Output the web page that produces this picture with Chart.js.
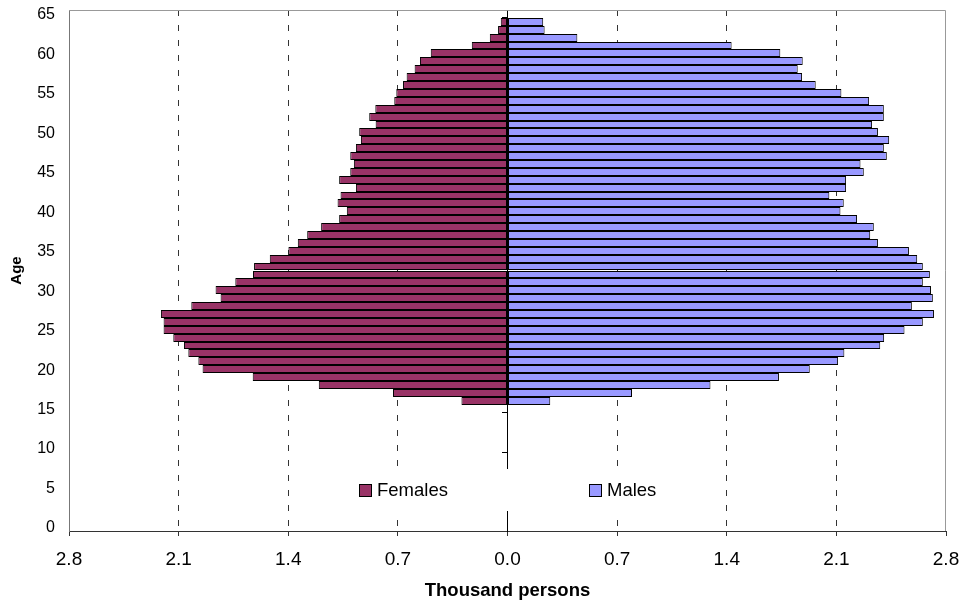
<!DOCTYPE html>
<html>
<head>
<meta charset="utf-8">
<script src="https://cdn.jsdelivr.net/npm/chart.js@4.4.1/dist/chart.umd.min.js"></script>
<style>
    html, body { margin: 0; padding: 0; background: #fff; }
    #wrap { width: 964px; height: 606px; position: relative; }
</style>
</head>
<body>
<div id="wrap"><canvas id="pyramidChart"></canvas></div>
<script>
// ages shown as bars, youngest first
const ages = [16, 17, 18, 19, 20, 21, 22, 23, 24, 25,
    26, 27, 28, 29, 30, 31, 32, 33, 34, 35,
    36, 37, 38, 39, 40, 41, 42, 43, 44, 45,
    46, 47, 48, 49, 50, 51, 52, 53, 54, 55,
    56, 57, 58, 59, 60, 61, 62, 63, 64];

// thousand persons
const females = [0.294, 0.731, 1.205, 1.627, 1.947, 1.974, 2.038, 2.066, 2.134, 2.196,
    2.196, 2.213, 2.019, 1.832, 1.864, 1.738, 1.625, 1.618, 1.518, 1.399,
    1.339, 1.279, 1.190, 1.075, 1.026, 1.085, 1.066, 0.968, 1.075, 1.004,
    0.981, 1.004, 0.968, 0.936, 0.947, 0.842, 0.883, 0.844, 0.723, 0.710,
    0.667, 0.644, 0.593, 0.559, 0.490, 0.228, 0.113, 0.060, 0.043];

const males = [0.273, 0.795, 1.296, 1.733, 1.930, 2.111, 2.151, 2.380, 2.405, 2.535,
    2.652, 2.723, 2.582, 2.716, 2.704, 2.652, 2.697, 2.652, 2.616, 2.563,
    2.365, 2.316, 2.339, 2.232, 2.126, 2.147, 2.055, 2.162, 2.162, 2.275,
    2.254, 2.422, 2.403, 2.437, 2.365, 2.328, 2.403, 2.403, 2.309, 2.132,
    1.968, 1.881, 1.853, 1.885, 1.742, 1.431, 0.446, 0.237, 0.228];

const xTicks = [-2.8, -2.1, -1.4, -0.7, 0, 0.7, 1.4, 2.1, 2.8];
const yTicks = [0, 5, 10, 15, 20, 25, 30, 35, 40, 45, 50, 55, 60, 65];

// one category slot per year of age, 0..65
const ageSlots = [];
for (let a = 0; a <= 65; a++) ageSlots.push(String(a));

const femaleData = ageSlots.map(a => {
    const k = ages.indexOf(Number(a));
    return k < 0 ? null : -females[k];
});
const maleData = ageSlots.map(a => {
    const k = ages.indexOf(Number(a));
    return k < 0 ? null : males[k];
});

const fontFamily = '"Liberation Sans", Arial, sans-serif';
Chart.defaults.font.family = fontFamily;
Chart.defaults.color = '#000';

// no extra room for overhanging labels, the layout padding handles it
const noPad = s => {
    s.paddingLeft = 0;
    s.paddingRight = 0;
    s.paddingTop = 0;
    s.paddingBottom = 0;
};

// snap bar top/bottom edges to whole pixels so the borders stay crisp
const snapBars = {
    id: 'snapBars',
    beforeDatasetsDraw(chart) {
        chart.data.datasets.forEach((ds, i) => {
            chart.getDatasetMeta(i).data.forEach(bar => {
                const top = Math.round(bar.y - bar.height / 2);
                const bottom = Math.round(bar.y + bar.height / 2);
                bar.y = (top + bottom) / 2;
                bar.height = bottom - top;
            });
        });
    }
};

// gray top and right edges of the plot area
const frameLines = {
    id: 'frameLines',
    beforeDatasetsDraw(chart) {
        const { ctx, chartArea } = chart;
        const t = Math.round(chartArea.top) + 0.5;
        const r = Math.round(chartArea.right) - 0.5;
        ctx.save();
        ctx.strokeStyle = '#999';
        ctx.lineWidth = 1;
        ctx.beginPath();
        ctx.moveTo(chartArea.left, t);
        ctx.lineTo(r, t);
        ctx.lineTo(r, chartArea.bottom);
        ctx.stroke();
        ctx.restore();
    }
};

// legend sitting inside the plot, near the bottom
const legendBox = {
    id: 'legendBox',
    afterDraw(chart) {
        const { ctx, chartArea } = chart;
        const cy = chartArea.bottom - 41;
        const itemX = [chartArea.left + 290, chartArea.left + 520];
        ctx.save();
        ctx.fillStyle = '#fff';
        ctx.fillRect(chartArea.left + 280, cy - 21, 330, 42);
        ctx.font = '18.5px ' + fontFamily;
        ctx.textBaseline = 'middle';
        chart.data.datasets.forEach((ds, i) => {
            const x = itemX[i];
            ctx.fillStyle = ds.backgroundColor;
            ctx.fillRect(x, cy - 6, 12, 12);
            ctx.strokeStyle = '#000';
            ctx.lineWidth = 1;
            ctx.strokeRect(x + 0.5, cy - 5.5, 12, 12);
            ctx.fillStyle = '#000';
            ctx.fillText(ds.label, x + 18, cy + 1);
        });
        ctx.restore();
    }
};

const chartItem = document.getElementById('pyramidChart');
const pyramid = new Chart(chartItem, {
    type: 'bar',
    data: {
        labels: ageSlots,
        datasets: [{
            label: 'Females',
            data: femaleData,
            xAxisID: 'x',
            yAxisID: 'y',
            backgroundColor: '#993366',
            borderColor: '#000',
            borderWidth: 1,
            borderSkipped: false,
            inflateAmount: 0,
            barPercentage: 1.0,
            categoryPercentage: 1.0
        },
        {
            label: 'Males',
            data: maleData,
            xAxisID: 'x',
            yAxisID: 'y',
            backgroundColor: '#9999FF',
            borderColor: '#000',
            borderWidth: 1,
            borderSkipped: false,
            inflateAmount: 0,
            barPercentage: 1.0,
            categoryPercentage: 1.0
        }]
    },
    options: {
        indexAxis: 'y',
        responsive: true,
        maintainAspectRatio: false,
        animation: false,
        layout: {
            padding: { top: 10, right: 18, left: 0, bottom: 0 }
        },
        plugins: {
            legend: { display: false },
            tooltip: { enabled: false }
        },
        scales: {
            x: {
                type: 'linear',
                min: -2.8,
                max: 2.8,
                stacked: true,
                afterBuildTicks: s => { s.ticks = xTicks.map(v => ({ value: v })); },
                afterFit: s => { s.height = 75; noPad(s); },
                ticks: {
                    font: { size: 19 },
                    color: '#000',
                    padding: 12,
                    maxRotation: 0,
                    autoSkip: false,
                    callback: v => Math.abs(v).toFixed(1)
                },
                grid: {
                    color: c => (c.tick && (c.tick.value === 0 || Math.abs(c.tick.value) === 2.8)) ? 'rgba(0,0,0,0)' : '#333',
                    tickColor: '#333',
                    tickLength: 5,
                    lineWidth: 1
                },
                border: {
                    color: '#333',
                    dash: [6, 9]
                },
                title: {
                    display: true,
                    text: 'Thousand persons',
                    color: '#000',
                    font: { size: 18.5, weight: 'bold' },
                    padding: { top: 0, bottom: 4 }
                }
            },
            y: {
                type: 'category',
                display: false,
                reverse: true,
                stacked: true
            },
            yAge: {
                type: 'linear',
                axis: 'y',
                position: 'left',
                offset: false,
                min: 0,
                max: 66,
                afterBuildTicks: s => { s.ticks = yTicks.map(v => ({ value: v })); },
                afterFit: s => { s.width = 69; noPad(s); },
                ticks: {
                    font: { size: 16 },
                    color: '#000',
                    padding: 14,
                    labelOffset: -3
                },
                grid: {
                    display: false,
                    drawTicks: false,
                    offset: false
                },
                border: {
                    color: '#777'
                },
                title: {
                    display: true,
                    text: 'Age',
                    color: '#000',
                    font: { size: 15, weight: 'bold' },
                    padding: { top: 8, bottom: 0 }
                }
            },
            yMid: {
                type: 'linear',
                axis: 'y',
                position: { x: 0 },
                offset: false,
                min: 0,
                max: 66,
                afterBuildTicks: s => { s.ticks = yTicks.map(v => ({ value: v })); },
                afterFit: s => { noPad(s); },
                ticks: { display: false },
                grid: {
                    drawOnChartArea: false,
                    drawTicks: true,
                    tickLength: 5,
                    offset: false,
                    color: '#000'
                },
                border: {
                    color: '#000'
                }
            }
        }
    },
    plugins: [snapBars, frameLines, legendBox]
});
</script>
</body>
</html>
